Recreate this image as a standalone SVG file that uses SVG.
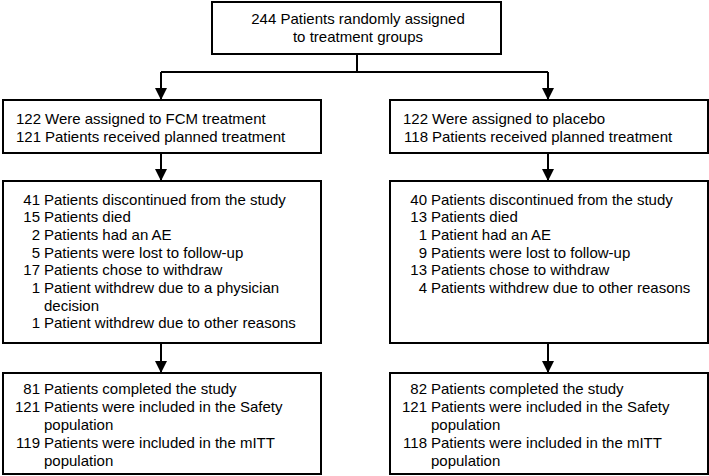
<svg xmlns="http://www.w3.org/2000/svg" width="709" height="476" viewBox="0 0 709 476">
<style>
.box{fill:#fff;stroke:#000;stroke-width:2}
.ln{fill:none;stroke:#000;stroke-width:2}
text{font-family:"Liberation Sans",Arial,sans-serif;font-size:15px;fill:#000}
.n{text-anchor:end}
.c{text-anchor:middle}
</style>
<defs>
<marker id="ah" markerUnits="userSpaceOnUse" markerWidth="14" markerHeight="12" refX="12" refY="6" orient="auto">
<path d="M0,0 L12,6 L0,12 Z" fill="#000"/>
</marker>
</defs>
<rect width="709" height="476" fill="#fff"/>
<g id="connectors">
<path class="ln" d="M357,54 V72 M161,72 H548"/>
<path class="ln" d="M161,72 V100" marker-end="url(#ah)"/>
<path class="ln" d="M548,72 V100" marker-end="url(#ah)"/>
<path class="ln" d="M161,153 V181" marker-end="url(#ah)"/>
<path class="ln" d="M548,153 V181" marker-end="url(#ah)"/>
<path class="ln" d="M161,343 V373" marker-end="url(#ah)"/>
<path class="ln" d="M548,343 V373" marker-end="url(#ah)"/>
</g>
<g id="randomized">
<rect class="box" x="212" y="2" width="289" height="52"/>
<text class="c" x="358" y="24">244 Patients randomly assigned</text>
<text class="c" x="358" y="42">to treatment groups</text>
</g>
<g id="fcm-assigned">
<rect class="box" x="3" y="100" width="318" height="53"/>
<text class="n" x="41" y="124">122</text><text x="45" y="124">Were assigned to FCM treatment</text>
<text class="n" x="41" y="142">121</text><text x="45" y="142">Patients received planned treatment</text>
</g>
<g id="placebo-assigned">
<rect class="box" x="390" y="100" width="318" height="53"/>
<text class="n" x="428" y="124">122</text><text x="432" y="124">Were assigned to placebo</text>
<text class="n" x="428" y="142">118</text><text x="432" y="142">Patients received planned treatment</text>
</g>
<g id="fcm-discontinued">
<rect class="box" x="3" y="181" width="318" height="162"/>
<text class="n" x="40" y="204.5">41</text><text x="44" y="204.5">Patients discontinued from the study</text>
<text class="n" x="40" y="222.2">15</text><text x="44" y="222.2">Patients died</text>
<text class="n" x="40" y="239.9">2</text><text x="44" y="239.9">Patients had an AE</text>
<text class="n" x="40" y="257.6">5</text><text x="44" y="257.6">Patients were lost to follow-up</text>
<text class="n" x="40" y="275.3">17</text><text x="44" y="275.3">Patients chose to withdraw</text>
<text class="n" x="40" y="293">1</text><text x="44" y="293">Patient withdrew due to a physician</text>
<text x="44" y="310.7">decision</text>
<text class="n" x="40" y="328.4">1</text><text x="44" y="328.4">Patient withdrew due to other reasons</text>
</g>
<g id="placebo-discontinued">
<rect class="box" x="390" y="181" width="318" height="162"/>
<text class="n" x="427" y="204.5">40</text><text x="431" y="204.5">Patients discontinued from the study</text>
<text class="n" x="427" y="222.2">13</text><text x="431" y="222.2">Patients died</text>
<text class="n" x="427" y="239.9">1</text><text x="431" y="239.9">Patient had an AE</text>
<text class="n" x="427" y="257.6">9</text><text x="431" y="257.6">Patients were lost to follow-up</text>
<text class="n" x="427" y="275.3">13</text><text x="431" y="275.3">Patients chose to withdraw</text>
<text class="n" x="427" y="293">4</text><text x="431" y="293">Patients withdrew due to other reasons</text>
</g>
<g id="fcm-completed">
<rect class="box" x="3" y="373" width="318" height="101"/>
<text class="n" x="40" y="394">81</text><text x="44" y="394">Patients completed the study</text>
<text class="n" x="40" y="412">121</text><text x="44" y="412">Patients were included in the Safety</text>
<text x="44" y="430">population</text>
<text class="n" x="40" y="448">119</text><text x="44" y="448">Patients were included in the mITT</text>
<text x="44" y="466">population</text>
</g>
<g id="placebo-completed">
<rect class="box" x="390" y="373" width="318" height="101"/>
<text class="n" x="427" y="394">82</text><text x="431" y="394">Patients completed the study</text>
<text class="n" x="427" y="412">121</text><text x="431" y="412">Patients were included in the Safety</text>
<text x="431" y="430">population</text>
<text class="n" x="427" y="448">118</text><text x="431" y="448">Patients were included in the mITT</text>
<text x="431" y="466">population</text>
</g>
</svg>
